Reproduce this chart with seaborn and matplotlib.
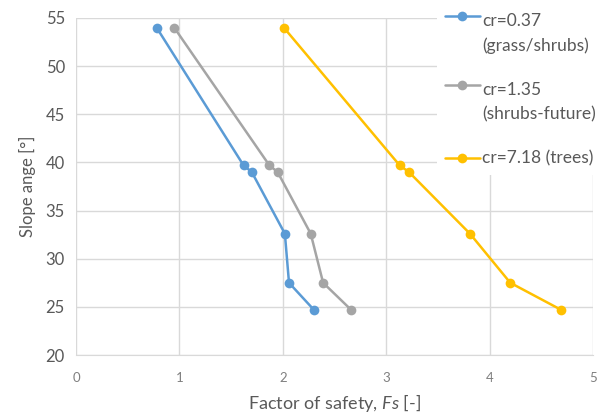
import numpy as np
import pandas as pd
import seaborn as sns
import matplotlib.pyplot as plt
from matplotlib.legend_handler import HandlerLine2D

# slope angles (deg) shared by all series
slope = [54, 39.7, 39, 32.6, 27.5, 24.7]

fs_grass = [0.78, 1.62, 1.70, 2.02, 2.06, 2.30]
fs_shrubs = [0.95, 1.87, 1.95, 2.27, 2.39, 2.66]
fs_trees = [2.01, 3.13, 3.22, 3.81, 4.20, 4.69]

labels = ["cr=0.37\n(grass/shrubs)", "cr=1.35\n(shrubs-future)", "cr=7.18 (trees)"]
colors = ["#5B9BD5", "#A5A5A5", "#FFC000"]

x_ticks = [0, 1, 2, 3, 4, 5]
y_ticks = [20, 25, 30, 35, 40, 45, 50, 55]

rows = []
for lab, fs in zip(labels, [fs_grass, fs_shrubs, fs_trees]):
    for f, a in zip(fs, slope):
        rows.append({"Fs": f, "Slope": a, "series": lab})
df = pd.DataFrame(rows)


class ShiftedHandler(HandlerLine2D):
    # moves the legend line up so it sits next to the first text line
    def __init__(self, dy=0, **kw):
        super().__init__(**kw)
        self.dy = dy

    def create_artists(self, legend, orig_handle, xdescent, ydescent,
                       width, height, fontsize, trans):
        arts = super().create_artists(legend, orig_handle, xdescent, ydescent,
                                      width, height, fontsize, trans)
        for a in arts:
            a.set_ydata(np.asarray(a.get_ydata()) + self.dy)
        return arts


sns.set_style("white")
plt.rcParams["font.family"] = ["Lato", "DejaVu Sans"]
plt.rcParams["mathtext.fontset"] = "custom"
plt.rcParams["mathtext.it"] = "Lato:italic"
plt.rcParams["mathtext.rm"] = "Lato"

fig = plt.figure(figsize=(6.09, 4.15), dpi=100)
ax = fig.add_axes([76 / 609, 60 / 415, 517 / 609, 337 / 415])

sns.lineplot(data=df, x="Fs", y="Slope", hue="series", palette=colors,
             marker="o", markersize=7, markeredgewidth=0, linewidth=1.8,
             estimator=None, sort=False, ax=ax)

ax.set_xlim(0, 5)
ax.set_ylim(20, 55)
ax.set_xticks(x_ticks)
ax.set_yticks(y_ticks)
ax.grid(True, color="#D9D9D9", linewidth=1)
for s in ax.spines.values():
    s.set_visible(False)
ax.spines["bottom"].set_visible(True)
ax.spines["bottom"].set_color("#D9D9D9")
ax.tick_params(axis="x", colors="#7F7F7F", labelsize=9.5, length=0, pad=12)
ax.tick_params(axis="y", colors="#595959", labelsize=12, length=0, pad=8)
ax.set_xlabel("Factor of safety, $\\mathit{Fs}$ [-]", fontsize=13, color="#595959", labelpad=6)
ax.set_ylabel("Slope ange [°]", fontsize=12, color="#595959", labelpad=7)

handles, labs = ax.get_legend_handles_labels()
hmap = {h: ShiftedHandler(dy=12.5) for h, l in zip(handles, labs) if "\n" in l}
leg = fig.legend(handles, labs, loc="upper left", bbox_to_anchor=(437 / 609, 1 - 5 / 415),
                 borderaxespad=0, frameon=True, fancybox=False, facecolor="white",
                 edgecolor="none", framealpha=1, fontsize=12.5, handlelength=2.0,
                 handletextpad=0.15, labelspacing=1.65, borderpad=0.45,
                 labelcolor="#595959", handler_map=hmap)
leg.get_frame().set_linewidth(0)
for t in leg.get_texts():
    t.set_linespacing(1.6)
leg.set_zorder(5)

fig.savefig("out.png", dpi=100)
